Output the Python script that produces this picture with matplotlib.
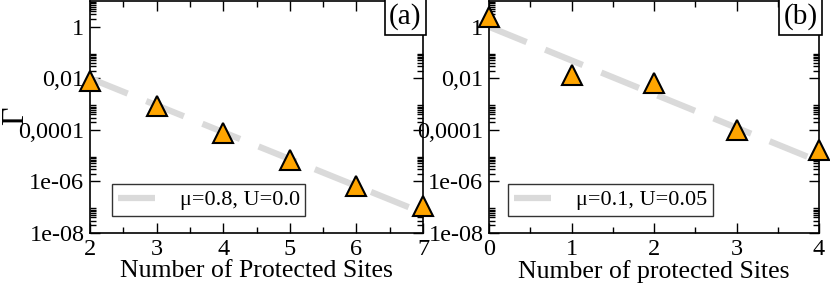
import matplotlib
matplotlib.use("Agg")
import matplotlib.pyplot as plt
from matplotlib.ticker import FixedLocator, FixedFormatter, MultipleLocator
import numpy as np

plt.rcParams['font.family'] = ['Liberation Serif', 'DejaVu Serif']

# Panel (a)
sites_a = [2, 3, 4, 5, 6, 7]
gamma_a = [8.0e-3, 8.3e-4, 7.6e-5, 7.0e-6, 6.4e-7, 1.1e-7]
fit_x_a = [2, 7]
fit_y_a = [1.0e-2, 6.0e-8]
label_a = "\u03bc=0.8, U=0.0"

# Panel (b)
sites_b = [0, 1, 2, 3, 4]
gamma_b = [2.3, 1.3e-2, 6.4e-3, 1.0e-4, 1.7e-5]
fit_x_b = [0, 4]
fit_y_b = [1.0, 6.0e-6]
label_b = "\u03bc=0.1, U=0.05"

ytick_vals = [1e-8, 1e-6, 1e-4, 1e-2, 1]
ytick_labels = ["1e-08", "1e-06", "0,0001", "0,01", "1"]

W, H = 830, 286
fig = plt.figure(figsize=(W / 100, H / 100), dpi=100)

def ax_rect(x0, x1, ytop, ybot):
    return [x0 / W, (H - ybot) / H, (x1 - x0) / W, (ybot - ytop) / H]

ax1 = fig.add_axes(ax_rect(90, 423, 1, 233))
ax2 = fig.add_axes(ax_rect(489, 819, 1, 233))

minor_vals = [m * 10.0 ** e for e in [-8, -6, -4, -2, 0] for m in range(2, 10)]

def style(ax, xlim, xlabel, tag, sites, gamma, fx, fy, lab, leg_x0):
    ax.set_yscale('log')
    ax.set_ylim(1e-8, 10)
    ax.set_xlim(*xlim)
    ax.plot(fx, fy, color='#dadada', lw=4.5, dashes=(6.5, 3.2), zorder=2, label=lab)
    ax.plot(sites, gamma, linestyle='none', marker='^', markersize=14,
            markerfacecolor='#ffa500', markeredgecolor='black', markeredgewidth=1.5,
            clip_on=False, zorder=5)
    ax.yaxis.set_major_locator(FixedLocator(ytick_vals))
    ax.yaxis.set_major_formatter(FixedFormatter(ytick_labels))
    ax.yaxis.set_minor_locator(FixedLocator(minor_vals))
    ax.yaxis.set_minor_formatter(FixedFormatter([]))
    ax.xaxis.set_major_locator(MultipleLocator(1))
    ax.xaxis.set_minor_locator(MultipleLocator(0.5))
    ax.tick_params(which='both', direction='in', top=True, right=True, labelsize=17.5, width=1)
    ax.tick_params(which='major', length=7, pad=4)
    ax.tick_params(which='minor', length=4.5)
    for s in ax.spines.values():
        s.set_linewidth(1.2)
    ax.set_xlabel(xlabel, fontsize=18.5, labelpad=0)
    ax.text(0.996, 0.99, tag, transform=ax.transAxes, ha='right', va='top', fontsize=21,
            bbox=dict(boxstyle='square,pad=0.15', facecolor='white', edgecolor='black', linewidth=1.2),
            zorder=6)
    aw = ax.get_position().width * W
    leg = ax.legend(loc='lower left', bbox_to_anchor=(leg_x0 / aw, 17 / 232),
                    fontsize=16, frameon=True, fancybox=False, borderaxespad=0,
                    handlelength=1.7, handletextpad=1.1, borderpad=0.25)
    leg.get_frame().set_edgecolor('black')
    leg.get_frame().set_linewidth(1.0)

style(ax1, (2, 7), "Number of Protected Sites", "(a)", sites_a, gamma_a, fit_x_a, fit_y_a, label_a, 22)
style(ax2, (0, 4), "Number of protected Sites", "(b)", sites_b, gamma_b, fit_x_b, fit_y_b, label_b, 19)

fig.text(16 / W, 1 - 116 / H, "\u0393", fontsize=23, rotation=90, ha='center', va='center')

fig.savefig("out.png", dpi=100)
